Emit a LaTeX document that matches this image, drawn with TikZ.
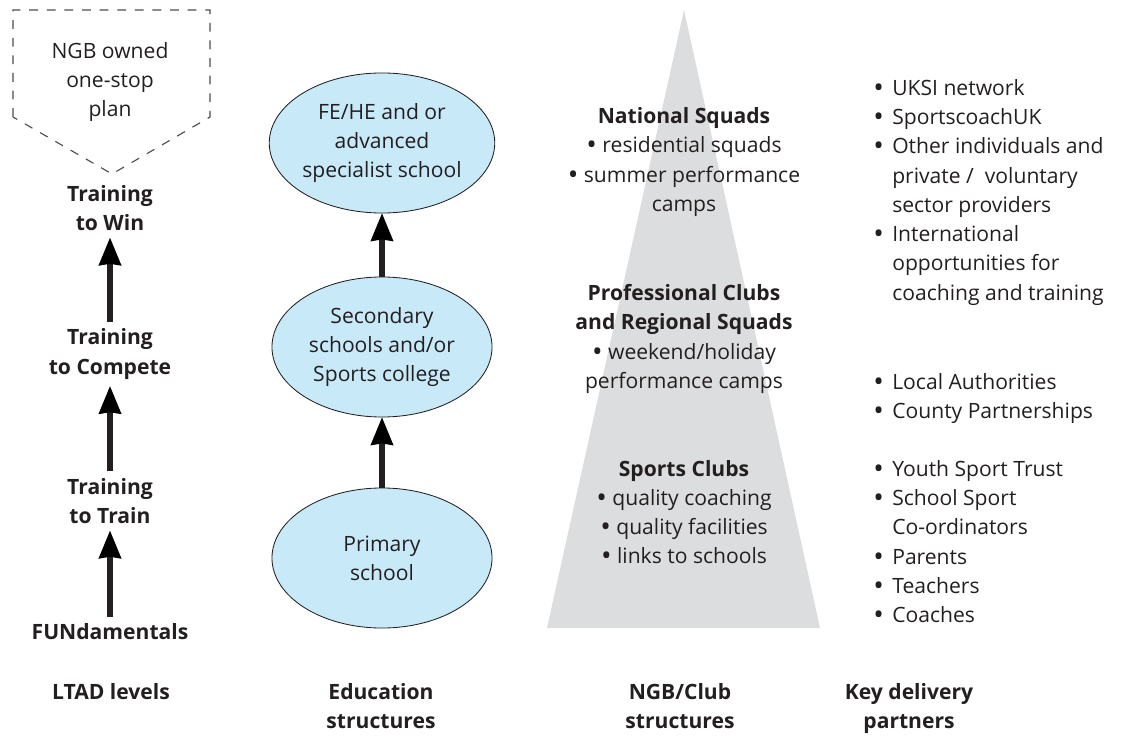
\documentclass[tikz,border=0pt]{standalone}
\usepackage{fontspec}
\setmainfont{Open Sans}
\usepackage{xcolor}
\usetikzlibrary{arrows.meta, shapes.geometric, positioning}

\definecolor{ovalblue}{HTML}{C8E9F8}
\definecolor{pyramidgrey}{HTML}{DCDDDE}
\definecolor{inkdark}{HTML}{231F20}
\definecolor{dashgrey}{HTML}{4D4D4F}
\newcommand{\bigdot}{\raisebox{-1.5pt}{\fontsize{20}{0}\selectfont•}}
\newcommand{\bitem}{\makebox[0.475cm][l]{\bigdot}}
\newcommand{\bskip}{\hspace*{0.475cm}}

\begin{document}
\begin{tikzpicture}[x=0.025cm, y=-0.025cm,
        every node/.style={font=\fontsize{15}{20.8}\selectfont, text=inkdark, inner sep=0pt},
        level/.style={align=center, font=\fontsize{15}{20.8}\selectfont\bfseries, outer sep=5pt},
        oval/.style={ellipse, draw=inkdark, line width=0.6pt, fill=ovalblue,
            minimum width=5.5cm, minimum height=3.5cm, align=center},
        upward/.style={-{Stealth[width=0.58cm, length=0.7cm, inset=0.05cm, line width=0pt]},
            line width=3.6pt, draw=inkdark},
        tier/.style={align=center},
        partners/.style={align=left, anchor=north west},
        caption/.style={align=center, anchor=north, font=\fontsize{15}{20.8}\selectfont\bfseries}]
        \useasboundingbox (0,0) rectangle (1128,740);

        % LTAD column
        \draw[dashgrey, line width=0.8pt, dash pattern=on 0.22cm off 0.22cm]
            (13,117) -- (13,10) -- (210,10) -- (210,117) -- (112,174) -- cycle;
        \node[tier] (plan) at (110,82) {NGB owned\\one-stop\\plan};
        \node[level] (win) at (110,208) {Training\\to Win};
        \node[level] (compete) at (110,354) {Training\\to Compete};
        \node[level] (train) at (110,501) {Training\\to Train};
        \node[level] (fun) at (110,632) {FUNdamentals};

        \path[upward]
        (fun) edge (train)
        (train) edge (compete)
        (compete) edge (win);

        % education column
        \node[oval] (fehe) at (382,143) {FE/HE and or\\advanced\\specialist school};
        \node[oval] (secondary) at (382,347) {Secondary\\schools and/or\\Sports college};
        \node[oval] (primary) at (382,558) {Primary\\school};

        \path[upward]
        (primary) edge (secondary)
        (secondary) edge (fehe);

        % NGB / club pyramid
        \fill[pyramidgrey] (684,10) -- (820,628) -- (547,628) -- cycle;
        \node[tier] (natsquads) at (684,162)
            {\textbf{National Squads}\\\bigdot\ residential squads\\\bigdot\ summer performance\\camps};
        \node[tier] (proclubs) at (684,339)
            {\textbf{Professional Clubs}\\\textbf{and Regional Squads}\\\bigdot\ weekend/holiday\\performance camps};
        \node[tier] (sportclubs) at (684,513)
            {\textbf{Sports Clubs}\\\bigdot\ quality coaching\\\bigdot\ quality facilities\\\bigdot\ links to schools};

        % delivery partners
        \node[partners] (eliteprt) at (873,79)
            {\bitem UKSI network\\\bitem SportscoachUK\\\bitem Other individuals and\\
             \bskip private /\ \ voluntary\\\bskip sector providers\\\bitem International\\
             \bskip opportunities for\\\bskip coaching and training};
        \node[partners] (localprt) at (873,373)
            {\bitem Local Authorities\\\bitem County Partnerships};
        \node[partners] (schoolprt) at (873,460)
            {\bitem Youth Sport Trust\\\bitem School Sport\\\bskip Co-ordinators\\
             \bitem Parents\\\bitem Teachers\\\bitem Coaches};

        % column captions
        \node[caption] (ltadcap) at (111,683) {LTAD levels};
        \node[caption] (educap) at (381,683) {Education\\structures};
        \node[caption] (ngbcap) at (680,683) {NGB/Club\\structures};
        \node[caption] (keycap) at (909,683) {Key delivery\\partners};
\end{tikzpicture}
\end{document}
